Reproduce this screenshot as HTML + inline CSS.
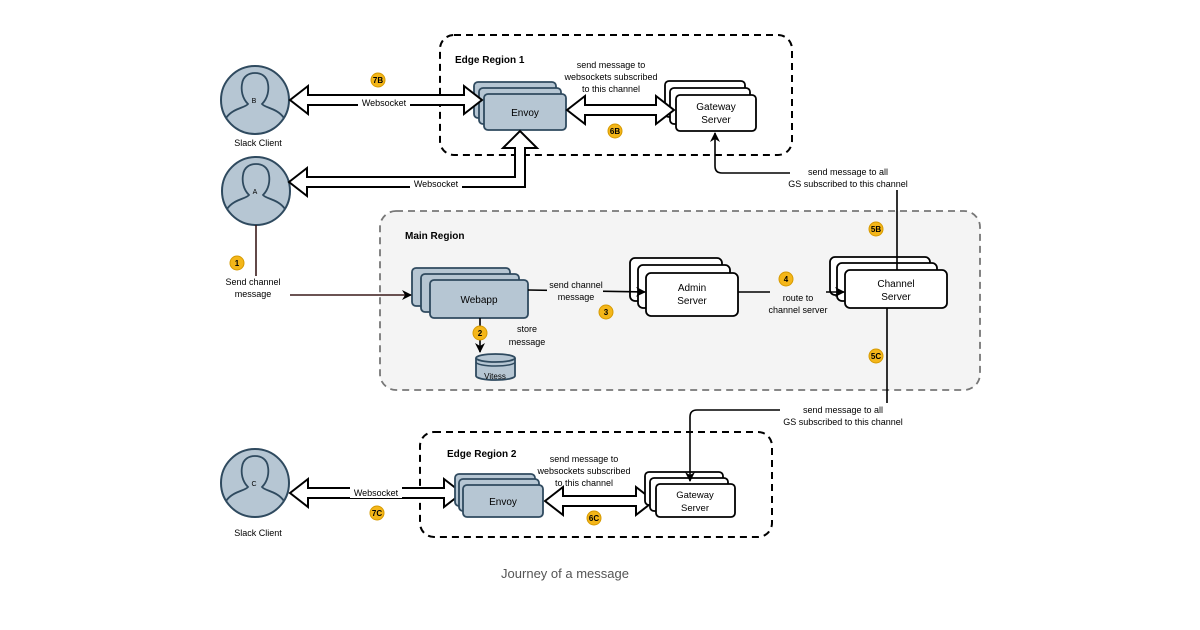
<!DOCTYPE html>
<html><head><meta charset="utf-8"><style>
html,body{margin:0;padding:0;background:#fff;}
svg{display:block;font-family:"Liberation Sans",Arial,sans-serif;}
</style></head><body>
<svg width="1200" height="630" viewBox="0 0 1200 630" xmlns="http://www.w3.org/2000/svg">
<defs>
<marker id="ah" markerWidth="10" markerHeight="10" refX="9" refY="5" orient="auto" markerUnits="userSpaceOnUse"><path d="M0,0 L10,5 L0,10 L3,5 z" fill="#000"/></marker>
<g id="person">
<circle cx="0" cy="0" r="34" fill="#b6c6d3" stroke="#2f4a5f" stroke-width="2"/>
<path d="M-29,18 C-22,8 -10,8 -7,4 C-13,-2 -14,-10 -13,-16 C-12,-24 -6,-27 0,-27 C6,-27 12,-24 13,-16 C14,-10 13,-2 7,4 C10,8 22,8 29,18" fill="none" stroke="#2f4a5f" stroke-width="1.8"/>
</g>
</defs>

<rect x="440" y="35" width="352" height="120" rx="14" fill="none" stroke="#000" stroke-width="2" stroke-dasharray="7,5"/>
<text x="455" y="63" font-size="10" font-weight="bold">Edge Region 1</text>

<rect x="380" y="211" width="600" height="179" rx="16" fill="#f4f4f4" stroke="#777" stroke-width="1.8" stroke-dasharray="7,5"/>
<text x="405" y="239" font-size="10" font-weight="bold">Main Region</text>

<rect x="420" y="432" width="352" height="105" rx="14" fill="none" stroke="#000" stroke-width="2" stroke-dasharray="7,5"/>
<text x="447" y="457" font-size="10" font-weight="bold">Edge Region 2</text>

<use href="#person" x="255" y="100"/>
<text x="254" y="103" font-size="7" text-anchor="middle">B</text>
<text x="258" y="146" font-size="9" text-anchor="middle">Slack Client</text>
<use href="#person" x="256" y="191"/>
<text x="255" y="194" font-size="7" text-anchor="middle">A</text>
<use href="#person" x="255" y="483"/>
<text x="254" y="486" font-size="7" text-anchor="middle">C</text>
<text x="258" y="536" font-size="9" text-anchor="middle">Slack Client</text>

<g fill="#b6c6d3" stroke="#2f4a5f" stroke-width="1.8">
<rect x="474" y="82" width="82" height="36" rx="4"/>
<rect x="479" y="88" width="82" height="36" rx="4"/>
<rect x="484" y="94" width="82" height="36" rx="4"/>
</g>
<text x="525" y="116" font-size="10" text-anchor="middle">Envoy</text>

<g fill="#fff" stroke="#000" stroke-width="1.8">
<rect x="665" y="81" width="80" height="36" rx="4"/>
<rect x="670" y="88" width="80" height="36" rx="4"/>
<rect x="676" y="95" width="80" height="36" rx="4"/>
</g>
<text x="716" y="110" font-size="10" text-anchor="middle">Gateway</text>
<text x="716" y="123" font-size="10" text-anchor="middle">Server</text>

<g fill="#fff" stroke="#000" stroke-width="2" stroke-linejoin="miter">
<polygon points="290,100 308,86 308,95 464,95 464,86 482,100 464,114 464,105 308,105 308,114"/>
<polygon points="567,110 585,96 585,105 656,105 656,96 674,110 656,124 656,115 585,115 585,124"/>
<polygon points="289,182 307,168 307,177 515,177 515,148 503,148 520,131 537,148 525,148 525,187 307,187 307,196"/>
<polygon points="290,493 308,479 308,488 444,488 444,479 462,493 444,507 444,498 308,498 308,507"/>
<polygon points="545,501 563,487 563,496 636,496 636,487 654,501 636,515 636,506 563,506 563,515"/>
</g>
<rect x="358" y="97" width="52" height="11" fill="#fff"/>
<text x="384" y="106" font-size="9" text-anchor="middle">Websocket</text>
<rect x="410" y="178" width="52" height="11" fill="#fff"/>
<text x="436" y="187" font-size="9" text-anchor="middle">Websocket</text>
<rect x="350" y="487" width="52" height="11" fill="#fff"/>
<text x="376" y="496" font-size="9" text-anchor="middle">Websocket</text>

<text x="611" y="68" font-size="9" text-anchor="middle">send message to</text>
<text x="611" y="80" font-size="9" text-anchor="middle">websockets subscribed</text>
<text x="611" y="92" font-size="9" text-anchor="middle">to this channel</text>

<g fill="#b6c6d3" stroke="#2f4a5f" stroke-width="1.8">
<rect x="412" y="268" width="98" height="38" rx="4"/>
<rect x="421" y="274" width="98" height="38" rx="4"/>
<rect x="430" y="280" width="98" height="38" rx="4"/>
</g>
<text x="479" y="303" font-size="10" text-anchor="middle">Webapp</text>

<path d="M476,358 L476,376 A19.5,4 0 0 0 515,376 L515,358" fill="#b6c6d3" stroke="#2f4a5f" stroke-width="1.8"/>
<ellipse cx="495.5" cy="358" rx="19.5" ry="4" fill="#b6c6d3" stroke="#2f4a5f" stroke-width="1.8"/>
<path d="M476,362 A19.5,4 0 0 0 515,362" fill="none" stroke="#2f4a5f" stroke-width="1.5"/>
<text x="495" y="379" font-size="8" text-anchor="middle">Vitess</text>

<g fill="#fff" stroke="#000" stroke-width="1.8">
<rect x="630" y="258" width="92" height="43" rx="5"/>
<rect x="638" y="265" width="92" height="43" rx="5"/>
<rect x="646" y="273" width="92" height="43" rx="5"/>
</g>
<text x="692" y="291" font-size="10" text-anchor="middle">Admin</text>
<text x="692" y="304" font-size="10" text-anchor="middle">Server</text>

<g fill="#fff" stroke="#000" stroke-width="1.8">
<rect x="830" y="257" width="100" height="38" rx="5"/>
<rect x="837" y="263" width="100" height="38" rx="5"/>
<rect x="845" y="270" width="102" height="38" rx="5"/>
</g>
<text x="896" y="287" font-size="10" text-anchor="middle">Channel</text>
<text x="896" y="300" font-size="10" text-anchor="middle">Server</text>

<g fill="#b6c6d3" stroke="#2f4a5f" stroke-width="1.8">
<rect x="455" y="474" width="80" height="32" rx="4"/>
<rect x="459" y="479" width="80" height="32" rx="4"/>
<rect x="463" y="485" width="80" height="32" rx="4"/>
</g>
<text x="503" y="505" font-size="10" text-anchor="middle">Envoy</text>

<g fill="#fff" stroke="#000" stroke-width="1.8">
<rect x="645" y="472" width="78" height="33" rx="4"/>
<rect x="650" y="478" width="78" height="33" rx="4"/>
<rect x="656" y="484" width="79" height="33" rx="4"/>
</g>
<text x="695" y="498" font-size="9.5" text-anchor="middle">Gateway</text>
<text x="695" y="511" font-size="9.5" text-anchor="middle">Server</text>

<text x="584" y="462" font-size="9" text-anchor="middle">send message to</text>
<text x="584" y="474" font-size="9" text-anchor="middle">websockets subscribed</text>
<text x="584" y="486" font-size="9" text-anchor="middle">to this channel</text>

<g fill="none" stroke="#000" stroke-width="1.6">
<line x1="256" y1="225" x2="256" y2="276" stroke="#3a1a1a"/>
<line x1="286" y1="295" x2="411" y2="295" stroke="#3a1a1a" marker-end="url(#ah)"/>
<line x1="480" y1="318" x2="480" y2="352" marker-end="url(#ah)"/>
<line x1="528" y1="290" x2="645" y2="292" marker-end="url(#ah)"/>
<line x1="738" y1="292" x2="844" y2="292" marker-end="url(#ah)"/>
<path d="M897,270 L897,173 L722,173 Q715,173 715,166 L715,133" marker-end="url(#ah)"/>
<path d="M887,308 L887,410 L697,410 Q690,410 690,417 L690,481" marker-end="url(#ah)"/>
</g>

<rect x="547" y="279" width="56" height="24" fill="#f4f4f4"/>
<text x="576" y="288" font-size="9" text-anchor="middle">send channel</text>
<text x="576" y="300" font-size="9" text-anchor="middle">message</text>
<rect x="770" y="291" width="56" height="24" fill="#f4f4f4"/>
<text x="798" y="301" font-size="9" text-anchor="middle">route to</text>
<text x="798" y="313" font-size="9" text-anchor="middle">channel server</text>
<text x="527" y="332" font-size="9" text-anchor="middle">store</text>
<text x="527" y="345" font-size="9" text-anchor="middle">message</text>
<rect x="218" y="276" width="72" height="24" fill="#fff"/>
<text x="253" y="285" font-size="9" text-anchor="middle">Send channel</text>
<text x="253" y="297" font-size="9" text-anchor="middle">message</text>

<rect x="790" y="166" width="120" height="24" fill="#fff"/>
<text x="848" y="175" font-size="9" text-anchor="middle">send message to all</text>
<text x="848" y="187" font-size="9" text-anchor="middle">GS subscribed to this channel</text>
<rect x="780" y="403" width="126" height="24" fill="#fff"/>
<text x="843" y="413" font-size="9" text-anchor="middle">send message to all</text>
<text x="843" y="425" font-size="9" text-anchor="middle">GS subscribed to this channel</text>

<g font-size="8" font-weight="bold" text-anchor="middle">
<g><circle cx="378" cy="80" r="7" fill="#f4b619" stroke="#d69a00"/><text x="378" y="83">7B</text></g>
<g><circle cx="615" cy="131" r="7" fill="#f4b619" stroke="#d69a00"/><text x="615" y="134">6B</text></g>
<g><circle cx="237" cy="263" r="7" fill="#f4b619" stroke="#d69a00"/><text x="237" y="266">1</text></g>
<g><circle cx="480" cy="333" r="7" fill="#f4b619" stroke="#d69a00"/><text x="480" y="336">2</text></g>
<g><circle cx="606" cy="312" r="7" fill="#f4b619" stroke="#d69a00"/><text x="606" y="315">3</text></g>
<g><circle cx="786" cy="279" r="7" fill="#f4b619" stroke="#d69a00"/><text x="786" y="282">4</text></g>
<g><circle cx="876" cy="229" r="7" fill="#f4b619" stroke="#d69a00"/><text x="876" y="232">5B</text></g>
<g><circle cx="876" cy="356" r="7" fill="#f4b619" stroke="#d69a00"/><text x="876" y="359">5C</text></g>
<g><circle cx="377" cy="513" r="7" fill="#f4b619" stroke="#d69a00"/><text x="377" y="516">7C</text></g>
<g><circle cx="594" cy="518" r="7" fill="#f4b619" stroke="#d69a00"/><text x="594" y="521">6C</text></g>
</g>

<text x="565" y="578" font-size="13" fill="#555" text-anchor="middle">Journey of a message</text>
</svg>
</body></html>
